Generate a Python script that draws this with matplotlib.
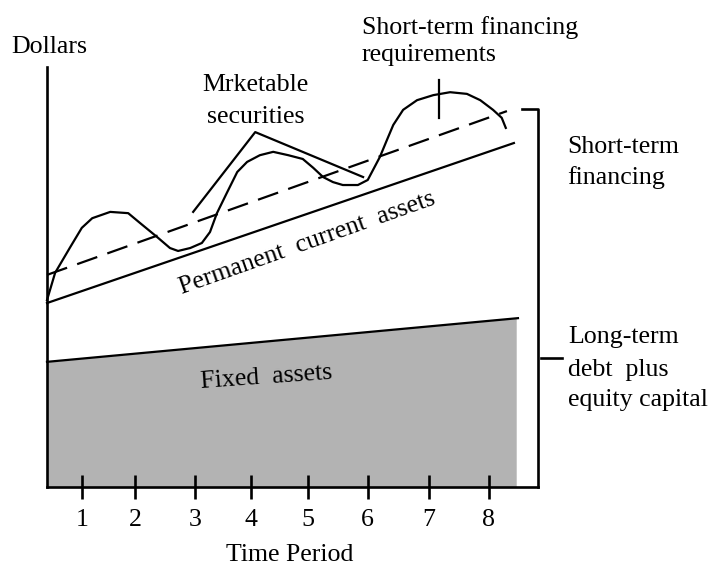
import matplotlib.pyplot as plt

plt.rcParams["font.family"] = ["Liberation Serif", "DejaVu Serif"]

# --- Data (time period on x, dollars on y) ---
periods = [1, 2, 3, 4, 5, 6, 7, 8]
period_pos = [0.60, 1.52, 2.55, 3.52, 4.50, 5.53, 6.59, 7.62]

# fixed assets line (start, end)
fixed_t = [0.0, 8.12]
fixed_v = [29.8, 40.2]
fixed_fill_end = 8.09

# permanent current assets line
perm_t = [0.0, 8.05]
perm_v = [43.8, 81.9]

# dashed line (long-term financing level)
dash_t = [0.0, 7.93]
dash_v = [50.5, 89.5]

# total assets wave
wave_t = [0.00, 0.14, 0.40, 0.60, 0.78, 1.09, 1.40, 1.60, 1.90, 2.12,
          2.26, 2.47, 2.67, 2.81, 2.93, 3.10, 3.28, 3.45, 3.67, 3.90,
          4.16, 4.41, 4.59, 4.76, 4.93, 5.10, 5.36, 5.53, 5.74, 5.86,
          5.97, 6.14, 6.38, 6.66, 6.95, 7.24, 7.47, 7.69, 7.84, 7.91]
wave_v = [44.5, 51.0, 57.1, 61.7, 64.0, 65.5, 65.2, 62.9, 59.5, 56.9,
          56.2, 56.9, 58.1, 60.7, 65.2, 70.0, 75.0, 77.4, 79.0, 79.8,
          79.0, 78.1, 76.0, 73.8, 72.6, 71.9, 71.9, 73.1, 78.6, 82.6,
          86.2, 89.8, 92.1, 93.3, 94.0, 93.6, 92.1, 89.8, 87.9, 85.5]

# pointer for "Mrketable securities"
sec_t = [2.52, 3.59, 5.45]
sec_v = [65.5, 84.5, 73.8]

# pointer for short-term requirements
req_t = [6.76, 6.76]
req_v = [96.9, 87.9]

# bracket on the right
br_x = 8.47
br_top = 90.0
br_top_start = 8.19
br_mid = 30.7
br_mid_end = 8.88

y_top = 100

# --- layout: pixel origin and pixel size of one unit ---
W, H = 714, 566
x0_px, y0_px = 47, 487
px_t, px_v = 58.0, 4.2

fig = plt.figure(figsize=(W / 100, H / 100), dpi=100)
ax = fig.add_axes([0, 0, 1, 1])
ax.set_xlim(-x0_px / px_t, (W - x0_px) / px_t)
ax.set_ylim((y0_px - H) / px_v, y0_px / px_v)
ax.axis("off")

lw = 1.6
fs = 18.6
k = "black"

# fixed assets area
ax.fill_between([fixed_t[0], fixed_fill_end],
                [fixed_v[0], fixed_v[0] + (fixed_v[1] - fixed_v[0]) * fixed_fill_end / fixed_t[1]],
                0, color="#b3b3b3", lw=0)
ax.plot(fixed_t, fixed_v, color=k, lw=lw)

# permanent current assets, dashed level, wave
ax.plot(perm_t, perm_v, color=k, lw=lw)
ax.plot(dash_t, dash_v, color=k, lw=lw, linestyle=(0, (9.6, 4.8)))
ax.plot(wave_t, wave_v, color=k, lw=lw)

# pointers
ax.plot(sec_t, sec_v, color=k, lw=lw)
ax.plot(req_t, req_v, color=k, lw=lw)

# axes
ax.plot([0, 0], [0, y_top], color=k, lw=lw + 0.3)
ax.plot([0, br_x], [0, 0], color=k, lw=lw + 0.3)
ax.vlines(period_pos, -2.8, 2.8, color=k, lw=lw + 0.3)
for p, t in zip(periods, period_pos):
    ax.text(t, -7.9, str(p), ha="center", va="center", fontsize=fs)

# bracket
ax.plot([br_top_start, br_x, br_x], [br_top, br_top, 0], color=k, lw=lw + 0.3)
ax.plot([br_x + 0.05, br_mid_end], [br_mid, br_mid], color=k, lw=lw + 0.3)

# labels
ax.text(0.04, 104.8, "Dollars", ha="center", va="center", fontsize=fs)
ax.text(4.19, -16.2, "Time Period", ha="center", va="center", fontsize=fs)
ax.text(3.60, 95.7, "Mrketable", ha="center", va="center", fontsize=fs)
ax.text(3.60, 88.1, "securities", ha="center", va="center", fontsize=fs)
ax.text(5.43, 109.5, "Short-term financing", ha="left", va="center", fontsize=fs)
ax.text(5.43, 102.9, "requirements", ha="left", va="center", fontsize=fs)
ax.text(8.97, 81.0, "Short-term", ha="left", va="center", fontsize=fs)
ax.text(8.97, 73.6, "financing", ha="left", va="center", fontsize=fs)
ax.text(8.98, 35.7, "Long-term", ha="left", va="center", fontsize=fs)
ax.text(8.98, 27.9, "debt  plus", ha="left", va="center", fontsize=fs)
ax.text(8.98, 20.7, "equity capital", ha="left", va="center", fontsize=fs)
ax.text(4.48, 58.1, "Permanent  current  assets", ha="center", va="center",
        fontsize=fs, rotation=19.5, rotation_mode="anchor")
ax.text(3.79, 26.2, "Fixed  assets", ha="center", va="center",
        fontsize=fs, rotation=4, rotation_mode="anchor")

fig.savefig("out.png", dpi=100)
